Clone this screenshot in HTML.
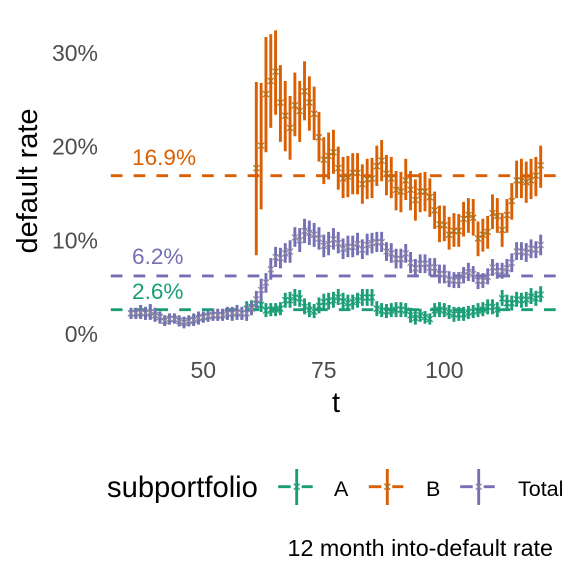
<!DOCTYPE html>
<html>
<head>
<meta charset="utf-8">
<style>
html,body{margin:0;padding:0;background:#fff;}
svg{display:block;font-family:"Liberation Sans",sans-serif;}
</style>
</head>
<body>
<svg id="chart" width="576" height="576" viewBox="0 0 576 576" xmlns="http://www.w3.org/2000/svg">
<rect width="576" height="576" fill="#fff"/>
<g id="marks"></g>
<g id="yticks" font-size="23" fill="#4d4d4d" text-anchor="end"></g>
<g id="xticks" font-size="23" fill="#4d4d4d" text-anchor="middle"></g>
<text transform="translate(37,181) rotate(-90)" font-size="29" text-anchor="middle" fill="#000">default rate</text>
<text x="336" y="412" font-size="29" text-anchor="middle" fill="#000">t</text>
<g id="legend">
<text x="107" y="497" font-size="29.2" fill="#000">subportfolio</text>
</g>
<text x="553" y="556" font-size="23.3" text-anchor="end" fill="#000">12 month into-default rate</text>
</svg>
<script>
const tValues = [35,36,37,38,39,40,41,42,43,44,45,46,47,48,49,50,51,52,53,54,55,56,57,58,59,60,61,62,63,64,65,66,67,68,69,70,71,72,73,74,75,76,77,78,79,80,81,82,83,84,85,86,87,88,89,90,91,92,93,94,95,96,97,98,99,100,101,102,103,104,105,106,107,108,109,110,111,112,113,114,115,116,117,118,119,120];
const meanA = [2.2,2.2,2.3,2.2,2.3,2.0,1.8,1.4,1.6,1.6,1.4,1.2,1.4,1.5,1.7,1.8,1.9,2.0,2.0,2.0,2.2,2.2,2.3,2.2,2.7,2.9,3.2,3.1,2.5,2.6,2.6,2.7,3.6,3.6,3.9,3.8,2.9,2.6,2.4,3.0,3.4,3.5,3.6,3.9,3.5,3.3,3.4,3.6,3.9,3.9,3.9,2.7,2.5,2.4,2.5,2.6,2.6,2.5,2.0,1.7,2.0,1.8,1.6,2.5,2.6,2.5,2.3,2.1,2.1,2.1,2.3,2.4,2.5,2.6,2.9,2.9,2.6,3.8,3.3,3.3,3.7,3.6,3.7,4.0,3.8,4.2];
const upperA = [2.7,2.7,3.0,2.8,3.1,2.7,2.3,1.9,2.1,2.1,1.9,1.75,1.9,2.1,2.3,2.3,2.35,2.6,2.6,2.6,2.8,2.8,3.0,2.8,3.5,3.6,3.8,3.8,3.3,3.3,3.3,3.4,4.4,4.5,4.8,4.7,3.8,3.4,3.2,3.9,4.3,4.4,4.5,4.8,4.4,4.2,4.2,4.4,4.8,4.8,4.8,3.5,3.3,3.2,3.3,3.4,3.4,3.3,2.8,2.45,2.7,2.45,2.2,3.3,3.4,3.3,3.1,2.9,2.9,2.9,3.0,3.1,3.3,3.4,3.7,3.7,3.4,4.7,4.2,4.1,4.5,4.4,4.5,4.9,4.6,5.1];
const lowerA = [1.7,1.7,1.7,1.6,1.6,1.4,1.2,0.95,1.1,1.2,0.9,0.7,0.9,0.95,1.1,1.3,1.4,1.5,1.5,1.5,1.6,1.5,1.6,1.6,1.9,2.2,2.7,2.35,1.8,1.9,1.9,2.0,2.8,2.8,3.0,2.9,2.1,1.8,1.7,2.2,2.6,2.6,2.8,3.1,2.6,2.5,2.6,2.8,3.0,3.0,3.0,1.9,1.8,1.7,1.8,1.8,1.8,1.8,1.2,1.0,1.3,1.1,1.0,1.8,1.8,1.8,1.6,1.3,1.4,1.4,1.6,1.7,1.8,1.9,2.1,2.1,1.8,3.0,2.5,2.5,2.9,2.8,2.9,3.2,3.0,3.4];
const tValuesB = [61,62,63,64,65,66,67,68,69,70,71,72,73,74,75,76,77,78,79,80,81,82,83,84,85,86,87,88,89,90,91,92,93,94,95,96,97,98,99,100,101,102,103,104,105,106,107,108,109,110,111,112,113,114,115,116,117,118,119,120];
const meanB = [17.7,20.1,25.6,27.0,28.0,24.7,23.3,22.0,24.4,23.8,25.9,24.7,23.5,21.0,18.6,19.0,19.4,17.7,16.6,16.8,17.2,17.2,16.0,16.5,16.6,17.9,18.5,17.1,16.6,15.4,15.2,16.4,15.4,14.3,15.2,15.2,14.6,13.2,11.7,11.6,10.6,11.0,11.0,12.3,12.7,12.4,10.2,10.6,10.9,12.9,12.6,11.1,12.7,14.2,16.4,16.4,16.2,16.4,16.9,18.0];
const upperB = [26.9,26.8,31.7,32.0,32.4,28.7,27.0,25.4,27.9,27.0,29.1,27.5,26.4,23.7,21.0,21.5,21.8,20.0,18.9,19.0,19.3,19.3,18.1,18.7,18.8,20.1,20.7,19.1,18.9,17.4,17.3,18.7,17.4,16.5,17.2,17.3,16.6,15.2,13.7,13.7,12.5,12.9,12.8,14.1,14.5,14.4,12.0,12.3,12.6,14.9,14.5,12.9,14.4,16.1,18.5,18.7,18.4,18.7,18.9,20.1];
const lowerB = [8.4,13.3,19.4,22.0,23.4,20.5,19.5,18.6,21.1,20.5,22.8,21.7,20.7,18.4,16.0,16.5,17.1,15.4,14.5,14.6,14.9,14.9,13.9,14.4,14.5,15.8,16.3,14.8,14.5,13.2,13.0,14.3,13.2,12.1,13.0,13.1,12.5,11.2,9.8,9.9,9.0,9.3,9.3,10.4,10.8,10.5,8.3,8.8,9.1,11.2,10.8,9.3,10.8,12.2,14.5,14.5,14.0,14.4,14.7,15.6];
const meanTotal = [2.2,2.2,2.3,2.2,2.3,2.0,1.8,1.4,1.6,1.6,1.4,1.2,1.4,1.5,1.7,1.8,1.9,2.0,2.0,2.0,2.2,2.2,2.3,2.2,2.2,2.7,3.7,4.7,5.5,6.9,8.2,8.1,8.6,8.8,10.3,10.0,11.0,10.8,10.6,10.2,9.4,9.6,10.1,9.7,9.1,9.3,9.3,9.6,9.0,9.5,9.7,9.8,9.8,8.8,8.6,8.0,8.0,8.6,7.6,7.0,7.5,7.5,7.1,7.1,6.4,6.4,5.8,5.7,5.7,6.3,6.6,6.4,5.7,5.7,6.1,7.1,6.7,6.7,7.0,7.6,8.8,8.8,8.7,9.1,9.0,9.5];
const upperTotal = [2.8,2.8,3.1,2.9,3.2,2.8,2.4,2.0,2.2,2.2,2.0,1.85,2.0,2.2,2.4,2.4,2.45,2.7,2.7,2.7,2.9,2.9,3.1,2.9,3.1,3.45,4.6,5.9,6.5,8.1,9.3,9.2,9.7,10.0,11.4,11.3,12.3,12.1,11.85,11.4,10.6,10.9,11.3,10.9,10.2,10.5,10.5,10.8,10.1,10.7,10.8,10.9,10.9,9.8,9.7,9.1,9.1,9.6,8.75,8.0,8.5,8.5,8.1,8.1,7.4,7.4,6.7,6.6,6.6,7.15,7.6,7.25,6.6,6.5,7.0,8.0,7.6,7.6,8.0,8.6,9.8,9.8,9.7,10.1,9.9,10.6];
const lowerTotal = [1.6,1.6,1.6,1.5,1.5,1.3,1.1,0.85,1.0,1.1,0.8,0.6,0.8,0.85,1.0,1.2,1.3,1.4,1.4,1.4,1.5,1.4,1.5,1.5,1.4,2.0,2.7,3.45,4.4,5.8,7.15,7.0,7.6,7.6,9.3,8.75,9.7,9.5,9.3,9.0,8.2,8.4,9.0,8.6,8.0,8.2,8.2,8.4,8.0,8.4,8.6,8.75,8.75,7.8,7.6,7.0,7.0,7.6,6.5,6.1,6.5,6.5,6.2,6.1,5.4,5.4,5.0,4.9,4.9,5.4,5.65,5.55,4.8,4.9,5.3,6.2,5.9,5.9,6.1,6.6,7.9,7.9,7.7,8.1,8.1,8.4];
const overallRates = [2.6,16.9,6.2];
const overallLabels = ["2.6%","16.9%","6.2%"];
const yTickValues = [0,10,20,30];
const yTickLabels = ["0%","10%","20%","30%"];
const xTickValues = [50,75,100];
const xTickLabels = ["50","75","100"];
const legendLabels = ["A","B","Total"];

const NS = "http://www.w3.org/2000/svg";
const colorA = "#1B9E77", colorB = "#D95F02", colorT = "#7570B3";
function xScale(t){ return 131 + (t - 35) * 4.82; }
function yScale(v){ return 334 - v * 9.37; }
function make(tag, attrs){
  const el = document.createElementNS(NS, tag);
  for (const k in attrs) el.setAttribute(k, attrs[k]);
  return el;
}
const marks = document.getElementById("marks");

function drawRefLine(v, color, label, labelY, name){
  const line = make("line", {x1:110.8, x2:561, y1:yScale(v), y2:yScale(v), stroke:color, "stroke-width":2.9, "stroke-dasharray":"11.7 11.1"});
  
  
  marks.appendChild(line);
  const txt = make("text", {x:132, y:labelY, "font-size":22.6, fill:color});
  txt.textContent = label;
  
  
  marks.appendChild(txt);
}
drawRefLine(overallRates[0], colorA, overallLabels[0], 299, 'a');
drawRefLine(overallRates[1], colorB, overallLabels[1], 165, 'b');
drawRefLine(overallRates[2], colorT, overallLabels[2], 264, 'total');

function drawSeries(ts, mean, lower, upper, color, xColor, name){
  const g = document.createElementNS(NS, "g");
  
  
  ts.forEach(function(t, i){
    const x = xScale(t);
    const bar = make("line", {x1:x, x2:x, y1:yScale(lower[i]), y2:yScale(upper[i]), stroke:color, "stroke-width":2.9});
    
    
    g.appendChild(bar);
    const y = yScale(mean[i]);
    const r = 3;
    const mark = make("path", {d:"M"+(x-r)+" "+(y-r)+"L"+(x+r)+" "+(y+r)+"M"+(x-r)+" "+(y+r)+"L"+(x+r)+" "+(y-r), stroke:xColor, "stroke-width":1.1, fill:"none"});
    
    
    g.appendChild(mark);
  });
  marks.appendChild(g);
}
drawSeries(tValues, meanA, lowerA, upperA, colorA, "#1B9E77", 'a');
drawSeries(tValuesB, meanB, lowerB, upperB, colorB, "#a8701a", 'b');
drawSeries(tValues, meanTotal, lowerTotal, upperTotal, colorT, "#8f84a4", 'total');

const yTicks = document.getElementById("yticks");
yTickValues.forEach(function(v, i){
  const t = make("text", {x:98, y:yScale(v) + 8});
  t.textContent = yTickLabels[i];
  
  
  yTicks.appendChild(t);
});
const xTicks = document.getElementById("xticks");
xTickValues.forEach(function(v, i){
  const t = make("text", {x:xScale(v), y:378});
  t.textContent = xTickLabels[i];
  
  
  xTicks.appendChild(t);
});

const legend = document.getElementById("legend");
const keyCenters = [296.7, 387.3, 478.7];
const labelXs = [334, 426, 518];
const keyColors = [colorA, colorB, colorT];
const keyMarks = ["#1B9E77", "#a8701a", "#8f84a4"];
legendLabels.forEach(function(lab, i){
  const g = document.createElementNS(NS, "g");
  
  
  const c = keyCenters[i], y = 486.7;
  const left = make("line", {x1:c-18.5, x2:c-6, y1:y, y2:y, stroke:keyColors[i], "stroke-width":2.9});
  
  
  g.appendChild(left);
  const right = make("line", {x1:c+5, x2:c+16, y1:y, y2:y, stroke:keyColors[i], "stroke-width":2.9});
  
  
  g.appendChild(right);
  const v = make("line", {x1:c, x2:c, y1:469, y2:505, stroke:keyColors[i], "stroke-width":2.9});
  
  
  g.appendChild(v);
  const r = 3;
  const m = make("path", {d:"M"+(c-r)+" "+(y-r)+"L"+(c+r)+" "+(y+r)+"M"+(c-r)+" "+(y+r)+"L"+(c+r)+" "+(y-r), stroke:keyMarks[i], "stroke-width":1.1, fill:"none"});
  
  
  g.appendChild(m);
  const t = make("text", {x:labelXs[i], y:496, "font-size":21.5, fill:"#000"});
  t.textContent = lab;
  
  
  g.appendChild(t);
  legend.appendChild(g);
});
</script>
</body>
</html>
